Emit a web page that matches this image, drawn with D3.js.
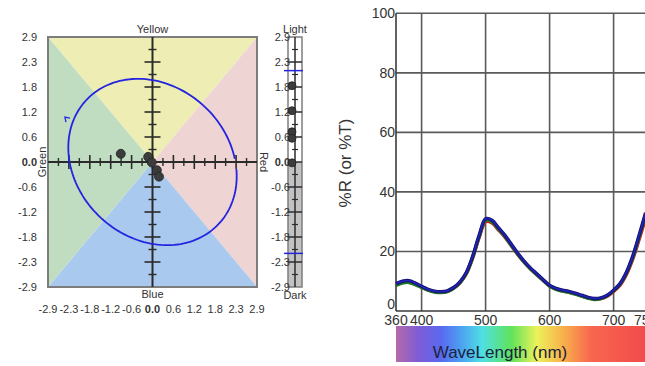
<!DOCTYPE html>
<html>
<head>
<meta charset="utf-8">
<script src="https://cdn.jsdelivr.net/npm/d3@7"></script>
<style>
  body { margin: 0; background: #fff; }
  text { font-family: Arial, "Liberation Sans", sans-serif; fill: #333; }
</style>
</head>
<body>
<div id="chart"></div>
<script>

// color space (left) values
var tickLabels = ["-2.9", "-2.3", "-1.8", "-1.2", "-0.6", "0.0", "0.6", "1.2", "1.8", "2.3", "2.9"];
var samplesA = [-0.88, -0.12, -0.02, 0.12, 0.18];
var samplesB = [0.19, 0.12, -0.01, -0.19, -0.34];
var ellipse = { cx: 0, cy: 0, rx: 2.4, ry: 1.85, rotDeg: -21 };
var lightValues = [1.77, 1.19, 0.70, 0.55, -0.02];
var lightLimits = [2.12, -2.12];

// spectrum (right) values
var wavelengths = [360, 370, 380, 390, 400, 410, 420, 430, 440, 450, 460, 470, 480, 490, 500,
                   510, 520, 530, 540, 550, 560, 570, 580, 590, 600, 610, 620, 630, 640, 650,
                   660, 670, 680, 690, 700, 710, 720, 730, 740, 750];
var specRed   = [8.9, 9.8, 10.0, 9.2, 8.1, 7.1, 6.5, 6.3, 6.6, 7.7, 9.5, 12.6, 18.0, 24.8, 30.0,
                 29.6, 27.3, 24.9, 22.0, 19.1, 16.5, 14.2, 12.2, 10.3, 8.4, 7.4, 6.8, 6.4, 5.8, 5.1,
                 4.4, 4.0, 4.2, 5.0, 6.6, 8.7, 12.3, 17.5, 24.2, 31.2];
var specGreen = [8.6, 9.4, 9.6, 8.9, 7.9, 7.0, 6.4, 6.2, 6.5, 7.6, 9.5, 12.7, 18.2, 25.1, 30.5,
                 30.0, 27.6, 25.1, 22.1, 19.2, 16.5, 14.2, 12.2, 10.3, 8.4, 7.3, 6.7, 6.3, 5.7, 5.0,
                 4.3, 3.9, 4.2, 5.1, 6.8, 9.0, 12.7, 18.0, 25.0, 32.4];
var specBlue  = [9.2, 10.0, 10.2, 9.4, 8.3, 7.3, 6.7, 6.5, 6.8, 7.9, 9.8, 13.0, 18.5, 25.5, 31.0,
                 30.5, 28.0, 25.5, 22.5, 19.5, 16.8, 14.5, 12.5, 10.5, 8.6, 7.6, 7.0, 6.6, 6.0, 5.3,
                 4.6, 4.2, 4.4, 5.3, 7.0, 9.2, 13.0, 18.5, 25.5, 33.0];
var yTicks = [0, 20, 40, 60, 80, 100];
var xGrid = [400, 500, 600, 700];
var xLabels = [360, 400, 500, 600, 700, 750];
var rainbow = [[360, "#b56aa9"], [395, "#7f5cd6"], [430, "#5a68ef"], [460, "#4c9ef2"], [495, "#4fe0e2"],
               [540, "#5fe35a"], [580, "#ecf25a"], [620, "#f8b24a"], [665, "#f8664f"], [750, "#f24b4b"]];

var svg = d3.select("#chart").append("svg")
    .attr("width", 645)
    .attr("height", 366);

// ---------- left: a/b plane ----------
var xL = d3.scaleLinear().domain([-2.9, 2.9]).range([48, 257]),
    yL = d3.scaleLinear().domain([-2.9, 2.9]).range([287, 37]),
    tickVals = tickLabels.map(function (d, i) { return -2.9 + i * 0.58; }),
    halfVals = d3.range(tickVals.length - 1).map(function (i) { return (tickVals[i] + tickVals[i + 1]) / 2; });

var quads = [
    { fill: "#eeedb3", pts: [[-2.9, 2.9], [2.9, 2.9], [0, 0]] },
    { fill: "#efd4d4", pts: [[2.9, 2.9], [2.9, -2.9], [0, 0]] },
    { fill: "#a9c9ee", pts: [[2.9, -2.9], [-2.9, -2.9], [0, 0]] },
    { fill: "#c0dcc1", pts: [[-2.9, -2.9], [-2.9, 2.9], [0, 0]] }
];
svg.selectAll(".quad").data(quads).enter().append("polygon")
    .attr("points", function (d) { return d.pts.map(function (p) { return xL(p[0]) + "," + yL(p[1]); }).join(" "); })
    .attr("fill", function (d) { return d.fill; });

svg.append("rect")
    .attr("x", xL(-2.9)).attr("y", yL(2.9))
    .attr("width", xL(2.9) - xL(-2.9)).attr("height", yL(-2.9) - yL(2.9))
    .attr("fill", "none").attr("stroke", "#7d7d7d").attr("stroke-width", 2);

var axisG = svg.append("g").attr("stroke", "#2b2b2b");
axisG.append("line").attr("x1", xL(-2.9)).attr("x2", xL(2.9)).attr("y1", yL(0)).attr("y2", yL(0)).attr("stroke-width", 2);
axisG.append("line").attr("x1", xL(0)).attr("x2", xL(0)).attr("y1", yL(2.9)).attr("y2", yL(-2.9)).attr("stroke-width", 2);
axisG.selectAll(".tx").data(tickVals.slice(1, -1)).enter().append("line")
    .attr("x1", function (d) { return xL(d); }).attr("x2", function (d) { return xL(d); })
    .attr("y1", yL(0) - 7).attr("y2", yL(0) + 7).attr("stroke-width", 1.6);
axisG.selectAll(".txm").data(halfVals).enter().append("line")
    .attr("x1", function (d) { return xL(d); }).attr("x2", function (d) { return xL(d); })
    .attr("y1", yL(0) - 4).attr("y2", yL(0) + 4).attr("stroke-width", 1.4);
axisG.selectAll(".ty").data(tickVals.slice(1, -1)).enter().append("line")
    .attr("y1", function (d) { return yL(d); }).attr("y2", function (d) { return yL(d); })
    .attr("x1", xL(0) - 8).attr("x2", xL(0) + 8).attr("stroke-width", 1.6);
axisG.selectAll(".tym").data(halfVals).enter().append("line")
    .attr("y1", function (d) { return yL(d); }).attr("y2", function (d) { return yL(d); })
    .attr("x1", xL(0) - 4).attr("x2", xL(0) + 4).attr("stroke-width", 1.4);

// tick labels
svg.selectAll(".yl").data(tickVals).enter().append("text")
    .attr("x", 37).attr("y", function (d) { return yL(d); }).attr("dy", "0.35em")
    .attr("text-anchor", "end").attr("font-size", 11)
    .attr("font-weight", function (d, i) { return tickLabels[i] === "0.0" ? "bold" : null; })
    .text(function (d, i) { return tickLabels[i]; });
svg.selectAll(".xl").data(tickVals).enter().append("text")
    .attr("x", function (d) { return xL(d); }).attr("y", 313)
    .attr("text-anchor", "middle").attr("font-size", 11)
    .attr("font-weight", function (d, i) { return tickLabels[i] === "0.0" ? "bold" : null; })
    .text(function (d, i) { return tickLabels[i]; });

svg.append("text").attr("x", xL(0)).attr("y", 33).attr("text-anchor", "middle").attr("font-size", 11).text("Yellow");
svg.append("text").attr("x", xL(0)).attr("y", 298).attr("text-anchor", "middle").attr("font-size", 11).text("Blue");
svg.append("text").attr("transform", "translate(46," + yL(0) + ") rotate(-90)")
    .attr("text-anchor", "middle").attr("font-size", 11).text("Green");
svg.append("text").attr("transform", "translate(260," + yL(0) + ") rotate(90)")
    .attr("text-anchor", "middle").attr("font-size", 11).text("Red");

// ellipse
var rot = ellipse.rotDeg * Math.PI / 180,
    angles = d3.range(0.5, 0.5 + 2 * Math.PI - 0.12, 0.04),
    ePts = angles.map(function (t) {
        var ex = ellipse.rx * Math.cos(t), ey = ellipse.ry * Math.sin(t);
        return [ellipse.cx + ex * Math.cos(rot) - ey * Math.sin(rot),
                ellipse.cy + ex * Math.sin(rot) + ey * Math.cos(rot)];
    });
svg.append("path")
    .attr("d", d3.line().x(function (d) { return xL(d[0]); }).y(function (d) { return yL(d[1]); })(ePts))
    .attr("fill", "none").attr("stroke", "#2424e0").attr("stroke-width", 1.8);
// arrow mark
var ax = xL(-2.43), ay = yL(1.04);
svg.append("path")
    .attr("d", "M" + (ax + 5) + "," + (ay + 1) + "L" + ax + "," + ay + "L" + (ax + 1) + "," + (ay + 5))
    .attr("fill", "none").attr("stroke", "#2424e0").attr("stroke-width", 1.3);

svg.selectAll(".dot").data(samplesA).enter().append("circle")
    .attr("cx", function (d) { return xL(d); })
    .attr("cy", function (d, i) { return yL(samplesB[i]); })
    .attr("r", 4.5).attr("fill", "#3c3c3c").attr("stroke", "#222").attr("stroke-width", 0.8);

// ---------- lightness bar ----------
var barX = 288, barW = 14, barMid = barX + barW / 2;
svg.append("rect").attr("x", barX).attr("y", yL(2.9)).attr("width", barW).attr("height", yL(0) - yL(2.9)).attr("fill", "#fff");
svg.append("rect").attr("x", barX).attr("y", yL(0)).attr("width", barW).attr("height", yL(-2.9) - yL(0)).attr("fill", "#c2c2c2");
svg.append("rect").attr("x", barX).attr("y", yL(2.9)).attr("width", barW).attr("height", yL(-2.9) - yL(2.9))
    .attr("fill", "none").attr("stroke", "#7d7d7d").attr("stroke-width", 1.5);
var barG = svg.append("g").attr("stroke", "#2b2b2b");
barG.append("line").attr("x1", barMid).attr("x2", barMid).attr("y1", yL(2.9)).attr("y2", yL(-2.9)).attr("stroke-width", 1.5);
barG.selectAll(".lt").data(tickVals.slice(1, -1)).enter().append("line")
    .attr("x1", barX).attr("x2", barX + barW)
    .attr("y1", function (d) { return yL(d); }).attr("y2", function (d) { return yL(d); }).attr("stroke-width", 1.5);
barG.selectAll(".ltm").data(halfVals).enter().append("line")
    .attr("x1", barMid - 3).attr("x2", barMid + 3)
    .attr("y1", function (d) { return yL(d); }).attr("y2", function (d) { return yL(d); }).attr("stroke-width", 1.2);
svg.selectAll(".lim").data(lightLimits).enter().append("line")
    .attr("x1", barX - 4).attr("x2", barX + barW + 1)
    .attr("y1", function (d) { return yL(d); }).attr("y2", function (d) { return yL(d); })
    .attr("stroke", "#2424e0").attr("stroke-width", 1.5);
svg.selectAll(".ll").data(tickVals).enter().append("text")
    .attr("x", 290).attr("y", function (d) { return yL(d); }).attr("dy", "0.35em")
    .attr("text-anchor", "end").attr("font-size", 11)
    .attr("font-weight", function (d, i) { return tickLabels[i] === "0.0" ? "bold" : null; })
    .text(function (d, i) { return tickLabels[i]; });
svg.selectAll(".ldot").data(lightValues).enter().append("circle")
    .attr("cx", barX + 4).attr("cy", function (d) { return yL(d); })
    .attr("r", 4).attr("fill", "#3c3c3c").attr("stroke", "#222").attr("stroke-width", 0.8);
svg.append("text").attr("x", barMid).attr("y", 33).attr("text-anchor", "middle").attr("font-size", 11).text("Light");
svg.append("text").attr("x", barMid).attr("y", 299).attr("text-anchor", "middle").attr("font-size", 11).text("Dark");

// ---------- right: spectrum ----------
var xR = d3.scaleLinear().domain([360, 750]).range([396, 645.6]),
    yR = d3.scaleLinear().domain([0, 100]).range([311, 13.3]);

var gridG = svg.append("g").attr("stroke", "#5a5a5a").attr("stroke-width", 1.6);
gridG.selectAll(".gy").data(yTicks.slice(1)).enter().append("line")
    .attr("x1", xR(360)).attr("x2", 645).attr("y1", function (d) { return yR(d); }).attr("y2", function (d) { return yR(d); });
gridG.selectAll(".gx").data(xGrid).enter().append("line")
    .attr("y1", yR(0)).attr("y2", yR(100)).attr("x1", function (d) { return xR(d); }).attr("x2", function (d) { return xR(d); });
gridG.append("line").attr("x1", xR(360)).attr("x2", xR(360)).attr("y1", yR(0)).attr("y2", yR(100)).attr("stroke", "#3a3a3a");
gridG.append("line").attr("x1", xR(360)).attr("x2", 645).attr("y1", yR(0)).attr("y2", yR(0)).attr("stroke", "#3a3a3a");

svg.selectAll(".ryl").data(yTicks).enter().append("text")
    .attr("x", xR(360) - 1).attr("y", function (d) { return d === 0 ? yR(d) - 7 : yR(d); }).attr("dy", "0.35em")
    .attr("text-anchor", "end").attr("font-size", 14).text(function (d) { return d; });
svg.selectAll(".rxl").data(xLabels).enter().append("text")
    .attr("x", function (d) { return xR(d); }).attr("y", 325)
    .attr("text-anchor", "middle").attr("font-size", 14).text(function (d) { return d; });
svg.append("text").attr("transform", "translate(351,163) rotate(-90)")
    .attr("text-anchor", "middle").attr("font-size", 17).text("%R (or %T)");

var grad = svg.append("defs").append("linearGradient").attr("id", "rainbow")
    .attr("gradientUnits", "userSpaceOnUse")
    .attr("x1", xR(360)).attr("x2", xR(750)).attr("y1", 0).attr("y2", 0);
grad.selectAll("stop").data(rainbow).enter().append("stop")
    .attr("offset", function (d) { return (d[0] - 360) / 390; })
    .attr("stop-color", function (d) { return d[1]; });
svg.append("rect").attr("x", xR(360)).attr("y", 326).attr("width", xR(750) - xR(360)).attr("height", 36)
    .attr("fill", "url(#rainbow)");
svg.append("text").attr("x", 500).attr("y", 358).attr("text-anchor", "middle").attr("font-size", 17)
    .style("fill", "#1c2340").text("WaveLength (nm)");

var specLine = d3.line().curve(d3.curveCatmullRom)
    .x(function (d, i) { return xR(wavelengths[i]); })
    .y(function (d) { return yR(d); });
var series = [
    { vals: specRed, color: "#e01a1a", w: 3.5 },
    { vals: specGreen, color: "#1e7a1e", w: 3.5 },
    { vals: specBlue, color: "#14147a", w: 3.4 },
    { vals: specBlue, color: "#2424b8", w: 1.4 }
];
svg.selectAll(".spec").data(series).enter().append("path")
    .attr("d", function (d) { return specLine(d.vals); })
    .attr("fill", "none")
    .attr("stroke", function (d) { return d.color; })
    .attr("stroke-width", function (d) { return d.w; });

</script>
</body>
</html>
